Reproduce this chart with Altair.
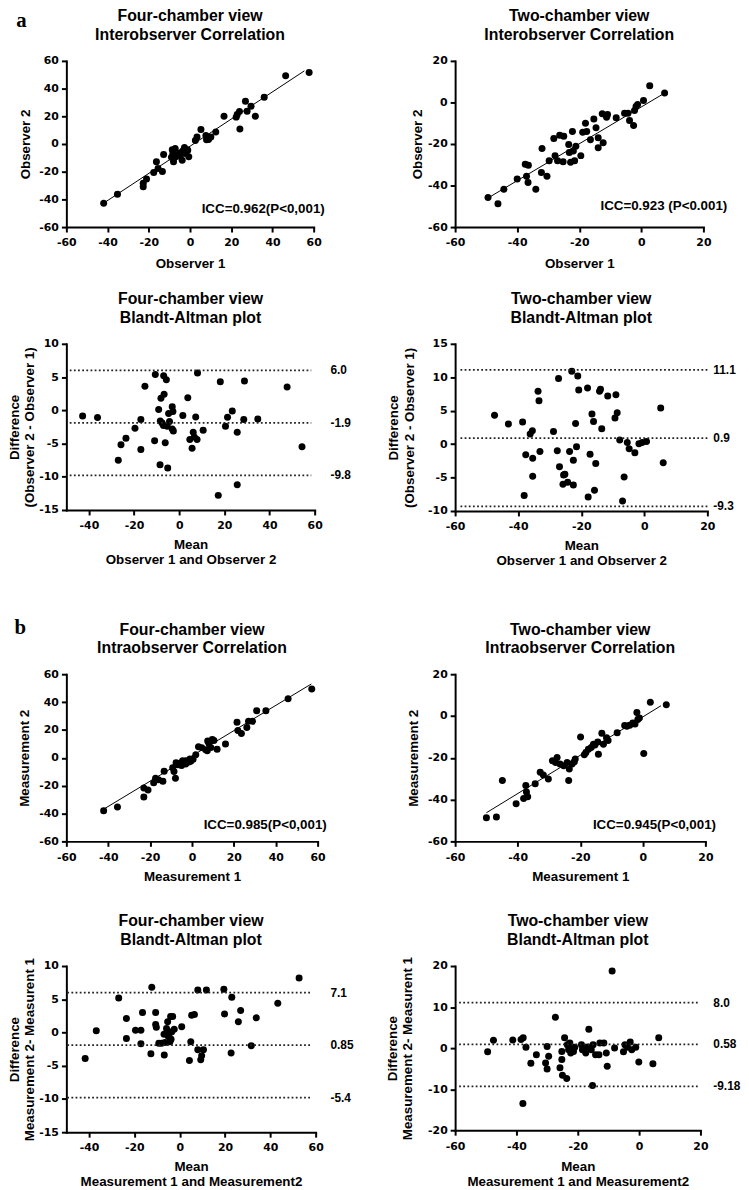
import altair as alt
import pandas as pd

FONT_T = "Liberation Sans"
FONT_L = "DejaVu Sans"
FONT_TAG = "Liberation Serif"

# ---------------- Panel 1: Interobserver, four-chamber ----------------
p1_x = [-41.9, -35.2, -22.7, -22.7, -21.1, -17.6, -16.3, -15.5, -13.4, -12.8, -8.6, -8.3, -8.0, -8.0,
        -7.2, -5.9, -5.1, -3.8, -3.5, -2.7, -2.2, -1.4, -0.6, -1.1, 2.6, 3.4, 5.3, 7.7, 8.0, 9.0, 10.1,
        12.5, 16.5, 22.4, 22.9, 24.0, 24.2, 26.9, 27.7, 29.6, 31.7, 36.0, 46.4, 57.8, -6.5, -4.5, -2.0, -9.0]
p1_y = [-42.8, -36.3, -28.4, -30.8, -25.3, -20.6, -12.9, -17.7, -19.8, -7.6, -4.1, -6.9, -10.5, -12.9,
        -3.3, -8.1, -6.5, -11.7, -5.0, -2.6, -6.9, -4.1, -9.3, -4.5, 2.6, 5.0, 10.5, 6.2, 3.1, 3.3, 5.0,
        8.6, 20.1, 19.4, 21.3, 23.4, 10.8, 30.8, 23.7, 27.3, 20.1, 33.7, 49.2, 51.6, -9.0, -7.5, -6.0, -9.5]
p1_fit_x = [-42.0, 55.5]
p1_fit_y = [-42.8, 52.8]

# ---------------- Panel 2: Interobserver, two-chamber ----------------
p2_x = [-49.4, -46.2, -44.3, -40.0, -37.4, -36.4, -37.0, -36.5, -34.0, -32.2, -32.0, -30.4, -29.7, -28.2,
        -27.8, -27.0, -26.3, -25.0, -25.2, -23.4, -23.2, -22.8, -22.2, -21.9, -21.5, -21.1, -19.5, -18.9,
        -18.0, -17.6, -16.4, -15.3, -14.6, -13.9, -13.9, -12.6, -12.3, -11.2, -10.9, -8.1, -5.4, -4.3,
        -3.8, -2.5, -2.2, -1.7, -1.2, 0.7, 2.7, 7.5]
p2_y = [-45.7, -48.8, -41.8, -36.9, -29.7, -30.2, -35.5, -38.5, -41.8, -33.7, -22.2, -35.5, -28.1, -17.4,
        -25.7, -28.1, -15.8, -16.3, -28.6, -20.2, -24.1, -28.8, -14.0, -23.4, -28.1, -21.1, -25.6, -14.4,
        -10.0, -14.0, -17.9, -8.0, -12.2, -17.0, -21.8, -5.5, -19.4, -7.1, -5.8, -7.4, -5.2, -5.2,
        -8.7, -11.1, -3.9, -2.0, -1.0, 0.9, 8.0, 4.5]
p2_fit_x = [-48.5, 7.5]
p2_fit_y = [-45.2, 4.5]

# ---------------- Panel 3: Bland-Altman, interobserver, four-chamber ----------------
p3_x = [-42.8, -36.2, -27.0, -25.8, -23.6, -19.6, -17.0, -17.0, -15.2, -10.9, -10.6, -9.1, -8.5, -8.4,
        -8.1, -7.6, -7.0, -6.7, -6.9, -6.2, -5.7, -5.3, -5.1, -4.7, -4.3, -3.1, -3.1, -2.8, -2.6, 1.6,
        3.8, 4.7, 5.7, 6.2, 6.7, 7.3, 7.9, 8.1, 10.6, 17.3, 18.2, 20.5, 21.4, 23.5, 25.7, 25.7, 28.6,
        28.9, 34.8, 47.8, 54.4]
p3_y = [-0.85, -1.1, -7.5, -5.2, -4.2, -2.7, -1.4, -5.9, 3.6, -4.6, 5.4, 0.1, -8.2, -1.6,
        1.8, -1.9, -2.3, 2.4, 5.2, -4.9, 4.6, -2.4, -8.7, -0.5, -1.7, 0.55, -2.8, -0.2, -3.1, -0.8,
        1.9, -4.4, -5.7, -3.3, -4.0, -1.0, -4.4, 5.6, -3.0, -12.8, 4.3, -2.4, -1.05, -0.1, -3.3, -11.2, -1.4,
        4.4, -1.3, 3.5, -5.5]
p3_lines = [6.0, -1.9, -9.8]
p3_labels = ["6.0", "-1.9", "-9.8"]
p3_span = [-48.5, 58.5]

# ---------------- Panel 4: Bland-Altman, interobserver, two-chamber ----------------
p4_x = [-47.5, -43.1, -38.6, -38.1, -37.6, -36.2, -35.5, -35.4, -35.4, -33.7, -33.4, -33.1, -28.8, -27.6,
        -27.2, -26.9, -25.6, -25.2, -25.8, -24.3, -23.7, -23.0, -22.5, -22.5, -21.8, -21.5, -21.1, -20.8,
        -18.0, -17.8, -17.2, -16.6, -16.1, -15.8, -15.4, -14.2, -13.9, -13.5, -11.6, -9.3, -9.0, -8.6,
        -7.8, -6.9, -6.4, -5.4, -4.8, -3.0, -1.7, -0.7, 0.7, 5.2, 6.0]
p4_y = [4.3, 3.0, 3.3, -7.7, -1.6, 1.5, 2.0, -2.1, -4.8, 7.9, 6.5, -1.1, 1.9, -1.0,
        9.8, -3.4, -4.6, -4.5, -6.0, -5.7, -1.1, 10.9, -2.4, -6.1, 3.1, -0.4, 10.2, 8.1,
        8.4, -7.9, -1.5, 4.5, 3.4, -6.9, -2.9, 7.9, 8.2, 2.3, 7.2, 3.9, 7.4, 4.7,
        0.6, -8.5, -4.9, 0.25, -0.7, -1.3, 0.05, 0.25, 0.4, 5.4, -2.8]
p4_lines = [11.1, 0.9, -9.3]
p4_labels = ["11.1", "0.9", "-9.3"]
p4_span = [-58.3, 20.0]

# ---------------- Panel 5: Intraobserver, four-chamber ----------------
p5_x = [-42.2, -35.6, -23.0, -23.0, -21.0, -18.3, -17.4, -16.0, -13.9, -13.3, -9.2, -8.6, -7.9, -7.6,
        -6.8, -5.6, -4.5, -3.7, -2.9, -2.1, -1.0, -0.6, 1.8, 3.1, 4.6, 6.5, 7.3, 7.5, 8.1, 9.0, 9.7,
        10.5, 12.0, 16.0, 21.5, 21.9, 23.6, 26.2, 27.0, 28.9, 30.9, 35.3, 45.9, 57.2, -5.0, -3.0, -1.5, 0.5]
p5_y = [-38.0, -35.4, -21.7, -28.1, -23.2, -18.0, -14.6, -15.8, -16.8, -9.7, -7.1, -9.9, -14.6, -3.5,
        -5.0, -4.0, -2.1, -3.8, -2.1, -2.6, -0.9, -2.4, 2.1, 8.0, 7.3, 5.7, 5.0, 12.0, 10.2, 7.3, 13.2,
        12.5, 6.1, 9.9, 25.5, 19.6, 17.5, 21.7, 26.2, 26.2, 33.8, 33.8, 42.3, 49.4, -5.5, -4.5, -3.0, -1.0]
p5_fit_x = [-42.0, 57.0]
p5_fit_y = [-36.7, 53.0]

# ---------------- Panel 6: Intraobserver, two-chamber ----------------
p6_x = [-50.0, -46.8, -44.9, -40.5, -38.1, -37.4, -37.2, -36.8, -34.4, -32.8, -31.8, -30.2, -28.9, -27.9,
        -27.4, -26.5, -25.3, -24.2, -23.7, -23.5, -22.6, -21.9, -21.6, -19.9, -18.7, -18.2, -17.4, -16.5,
        -15.8, -15.3, -14.4, -14.2, -13.1, -12.6, -11.6, -11.1, -8.2, -5.8, -5.1, -4.2, -3.2, -2.5, -1.9,
        -1.6, -1.1, 0.3, 2.4, 7.5]
p6_y = [-48.7, -48.3, -30.9, -42.0, -39.5, -33.2, -36.4, -38.7, -32.4, -26.9, -28.2, -30.1, -21.4, -22.2,
        -19.8, -23.0, -23.8, -22.2, -30.9, -25.4, -23.0, -21.9, -20.6, -10.1, -18.6, -17.5, -15.9, -15.1,
        -13.5, -13.9, -12.4, -18.3, -8.2, -13.5, -10.4, -11.7, -8.0, -4.6, -4.9, -4.4, -3.3, -3.8, 1.7,
        -1.7, -0.9, -18.0, 6.6, 5.4]
p6_fit_x = [-50.0, 5.8]
p6_fit_y = [-46.3, 4.9]

# ---------------- Panel 7: Bland-Altman, intraobserver, four-chamber ----------------
p7_x = [-41.7, -36.8, -26.9, -23.5, -23.5, -19.5, -17.1, -17.1, -16.4, -12.7, -12.3, -10.6, -10.6, -10.3,
        -9.2, -8.0, -6.9, -6.8, -6.5, -5.8, -5.3, -5.0, -4.3, -4.0, -3.5, -3.1, -2.4, 0.9, 4.3, 4.9, 5.3,
        6.5, 8.0, 8.0, 9.3, 9.7, 10.5, 11.8, 19.5, 19.8, 23.0, 22.7, 25.9, 26.9, 31.6, 33.8, 43.3, 52.7,
        -4.7, -3.8]
p7_y = [-3.9, 0.25, 5.2, 2.1, -0.9, 0.35, 0.35, -1.7, 3.0, -3.2, 6.8, 3.0, 1.2, 0.8,
        -1.6, -1.6, -0.25, -3.4, -1.5, 0.6, 1.6, -0.6, -1.4, 2.4, 0.1, 2.4, 0.5, 0.85, -4.2, -1.4, 2.6,
        2.7, -2.6, 6.4, -4.1, -3.5, -2.6, 6.4, 6.5, 2.8, 5.3, -3.1, 1.6, 3.3, -2.0, 2.2, 4.4, 8.2,
        -0.25, -1.0]
p7_lines = [6.0, -1.9, -9.8]
p7_labels = ["7.1", "0.85", "-5.4"]
p7_span = [-49.6, 58.2]

# ---------------- Panel 8: Bland-Altman, intraobserver, two-chamber ----------------
p8_x = [-49.4, -47.5, -41.2, -38.5, -37.8, -37.9, -36.9, -35.3, -33.5, -30.5, -30.0, -30.0, -29.5, -27.3,
        -25.8, -25.2, -25.2, -25.0, -24.3, -23.6, -23.4, -23.0, -22.6, -22.3, -22.0, -21.4, -21.0, -18.8,
        -18.5, -17.4, -16.9, -16.4, -15.6, -15.2, -15.0, -14.2, -13.1, -12.8, -11.5, -10.7, -10.4, -8.8,
        -8.0, -5.1, -4.6, -3.8, -2.9, -2.4, -1.1, -0.1, 4.5, 6.4]
p8_y = [-0.9, 1.9, 2.0, 2.1, 2.5, -13.5, 0.2, -3.7, -1.6, -3.6, 0.4, -5.1, -2.0, 7.5,
        -4.8, -0.8, -2.8, -6.6, 2.5, -7.4, 0.85, -0.4, 1.25, -1.2, 0.3, -0.8, 0.2, 0.85,
        -0.4, -1.2, 0.3, 4.6, -0.4, -9.1, 0.85, -1.6, -1.6, 1.25, 1.25, -1.2, -4.4, 18.8,
        0.05, -0.9, 0.85, 0.2, 1.5, -0.4, 0.2, -3.4, -3.8, 2.5]
p8_lines = [11.1, 0.9, -9.3]
p8_labels = ["8.0", "0.58", "-9.18"]
p8_span = [-58.7, 19.2]


def one_row():
    return pd.DataFrame({"k": [0]})


def panel(spec):
    xaxis = alt.Axis(values=spec["xticks"], title=spec["xtitle"], titleY=spec["xtitle_y"],
                     titleLineHeight=15, labelExpr="'' + datum.value")
    yaxis = alt.Axis(values=spec["yticks"], title=spec["ytitle"], titleX=spec["ytitle_x"],
                     titleLineHeight=spec.get("ytitle_lh", 16), labelExpr="'' + datum.value")
    xsc = alt.Scale(domain=spec["xdom"], nice=False, zero=False)
    ysc = alt.Scale(domain=spec["ydom"], nice=False, zero=False)

    def X(f="x"):
        return alt.X(f"{f}:Q", scale=xsc, axis=xaxis, title=spec["xtitle"])

    def Y(f="y"):
        return alt.Y(f"{f}:Q", scale=ysc, axis=yaxis, title=spec["ytitle"])

    pts = pd.DataFrame({"x": spec["px"], "y": spec["py"]})
    layers = [alt.Chart(pts).mark_circle(size=50, color="black", opacity=1).encode(x=X(), y=Y())]

    if "fit_x" in spec:
        fit = pd.DataFrame({"x": spec["fit_x"], "y": spec["fit_y"]})
        layers.append(alt.Chart(fit).mark_line(color="black", strokeWidth=1).encode(x=X(), y=Y()))
    if "lines" in spec:
        ln = pd.DataFrame({"y": spec["lines"], "label": spec["labels"],
                           "x": [spec["span"][0]] * 3, "x2": [spec["span"][1]] * 3})
        layers.append(alt.Chart(ln).mark_rule(color="#222222", strokeWidth=1.8, strokeDash=[1.8, 2.4])
                      .encode(x=X(), x2=alt.X2("x2:Q"), y=Y()))
        layers.append(alt.Chart(ln).mark_text(align="left", baseline="middle", font=FONT_T, fontSize=12,
                                              fontWeight="bold", color="black")
                      .encode(x=alt.value(spec["label_px"]), y=Y(), text="label:N"))
    layers.append(alt.Chart(one_row()).mark_text(text=spec["title"], font=FONT_T, fontSize=16,
                                                 fontWeight="bold", lineHeight=19, align="center",
                                                 baseline="middle", color="black")
                  .encode(x=alt.value(spec["w"] / 2), y=alt.value(-45)))
    if "icc" in spec:
        layers.append(alt.Chart(one_row()).mark_text(text=spec["icc"], font=FONT_T, fontSize=13.5,
                                                     fontWeight="bold", align="center",
                                                     baseline="alphabetic", color="black")
                      .encode(x=alt.value(spec["icc_pos"][0]), y=alt.value(spec["icc_pos"][1])))
    if "tag" in spec:
        layers.append(alt.Chart(one_row()).mark_text(text=spec["tag"], font=FONT_TAG, fontSize=21,
                                                     fontWeight="bold", align="center",
                                                     baseline="alphabetic", color="black")
                      .encode(x=alt.value(spec["tag_pos"][0]), y=alt.value(spec["tag_pos"][1])))
    return alt.layer(*layers).properties(width=spec["w"], height=spec["h"])


def spacer(h):
    return alt.Chart(one_row()).mark_point(opacity=0).encode(
        x=alt.value(0), y=alt.value(0)).properties(width=1, height=h)


ticks_wide = [-60, -40, -20, 0, 20, 40, 60]
ticks_short = [-60, -40, -20, 0, 20]
ticks_ba4x = [-40, -20, 0, 20, 40, 60]

P1 = panel(dict(px=p1_x, py=p1_y, fit_x=p1_fit_x, fit_y=p1_fit_y, w=250, h=168,
                xdom=[-60, 60], ydom=[-60, 60], xticks=ticks_wide, yticks=ticks_wide,
                xtitle="Observer 1", ytitle="Observer 2", xtitle_y=37, ytitle_x=-41,
                title=["Four-chamber view", "Interobserver Correlation"],
                icc="ICC=0.962(P<0,001)", icc_pos=(199, 154), tag="a", tag_pos=(-45.5, -34)))
P2 = panel(dict(px=p2_x, py=p2_y, fit_x=p2_fit_x, fit_y=p2_fit_y, w=251, h=168,
                xdom=[-60, 20], ydom=[-60, 20], xticks=ticks_short, yticks=ticks_short,
                xtitle="Observer 1", ytitle="Observer 2", xtitle_y=37, ytitle_x=-38,
                title=["Two-chamber view", "Interobserver Correlation"],
                icc="ICC=0.923 (P<0.001)", icc_pos=(211, 151)))
P3 = panel(dict(px=p3_x, py=p3_y, lines=p3_lines, labels=p3_labels, span=p3_span, label_px=267,
                w=251, h=168, xdom=[-50, 60], ydom=[-15, 10], xticks=ticks_ba4x,
                yticks=[-15, -10, -5, 0, 5, 10],
                xtitle=["Mean", "Observer 1 and Observer 2"],
                ytitle=["Difference", "(Observer 2 - Observer 1)"], xtitle_y=35, ytitle_x=-52.5,
                ytitle_lh=15, title=["Four-chamber view", "Blandt-Altman plot"]))
P4 = panel(dict(px=p4_x, py=p4_y, lines=p4_lines, labels=p4_labels, span=p4_span, label_px=261,
                w=255, h=169, xdom=[-60, 20], ydom=[-10, 15], xticks=ticks_short,
                yticks=[-10, -5, 0, 5, 10, 15],
                xtitle=["Mean", "Observer 1 and Observer 2"],
                ytitle=["Difference", "(Observer 2 - Observer 1)"], xtitle_y=35, ytitle_x=-62,
                ytitle_lh=16, title=["Two-chamber view", "Blandt-Altman plot"]))
P5 = panel(dict(px=p5_x, py=p5_y, fit_x=p5_fit_x, fit_y=p5_fit_y, w=254, h=169,
                xdom=[-60, 60], ydom=[-60, 60], xticks=ticks_wide, yticks=ticks_wide,
                xtitle="Measurement 1", ytitle="Measurement 2", xtitle_y=36, ytitle_x=-42,
                title=["Four-chamber view", "Intraobserver Correlation"],
                icc="ICC=0.985(P<0,001)", icc_pos=(201, 156), tag="b", tag_pos=(-46.5, -41)))
P6 = panel(dict(px=p6_x, py=p6_y, fit_x=p6_fit_x, fit_y=p6_fit_y, w=253, h=169,
                xdom=[-60, 20], ydom=[-60, 20], xticks=ticks_short, yticks=ticks_short,
                xtitle="Measurement 1", ytitle="Measurement 2", xtitle_y=36, ytitle_x=-42,
                title=["Two-chamber view", "Intraobserver Correlation"],
                icc="ICC=0.945(P<0,001)", icc_pos=(201.5, 156)))
P7 = panel(dict(px=p7_x, py=p7_y, lines=p7_lines, labels=p7_labels, span=p7_span, label_px=267,
                w=252, h=168, xdom=[-50, 60], ydom=[-15, 10], xticks=ticks_ba4x,
                yticks=[-15, -10, -5, 0, 5, 10],
                xtitle=["Mean", "Measurement 1 and Measurement2"],
                ytitle=["Difference", "Measurement 2- Measurent 1"], xtitle_y=35, ytitle_x=-52.5,
                ytitle_lh=15, title=["Four-chamber view", "Blandt-Altman plot"]))
P8 = panel(dict(px=p8_x, py=p8_y, lines=p8_lines, labels=p8_labels, span=p8_span, label_px=261,
                w=248, h=166, xdom=[-60, 20], ydom=[-20, 20], xticks=ticks_short,
                yticks=[-20, -10, 0, 10, 20],
                xtitle=["Mean", "Measurement 1 and Measurement2"],
                ytitle=["Difference", "Measurement 2- Measurent 1"], xtitle_y=37, ytitle_x=-63,
                ytitle_lh=15, title=["Two-chamber view", "Blandt-Altman plot"]))

cells = [P1, P2, spacer(110), spacer(110), P3, P4, spacer(157), spacer(157),
         P5, P6, spacer(118), spacer(118), P7, P8]

chart = alt.concat(*cells, columns=2, spacing={"row": 4, "column": 139}, bounds="flush",
                   align="each").properties(
    padding={"left": -1, "top": -6, "right": 0, "bottom": 0}
).configure_view(strokeWidth=0).configure_axis(
    grid=False, domainColor="black", domainWidth=2, domainCap="square", tickColor="black",
    tickWidth=2, tickSize=5, labelColor="black", labelFont=FONT_L, labelFontSize=11,
    labelFontWeight="bold", labelFlush=False, labelOverlap=False, titleColor="black",
    titleFont=FONT_T, titleFontSize=13.5, titleFontWeight="bold", titleBaseline="middle"
).configure_axisX(labelPadding=5).configure_axisY(labelPadding=3)

chart.save("out.html", embed_options={"renderer": "svg", "actions": False})
